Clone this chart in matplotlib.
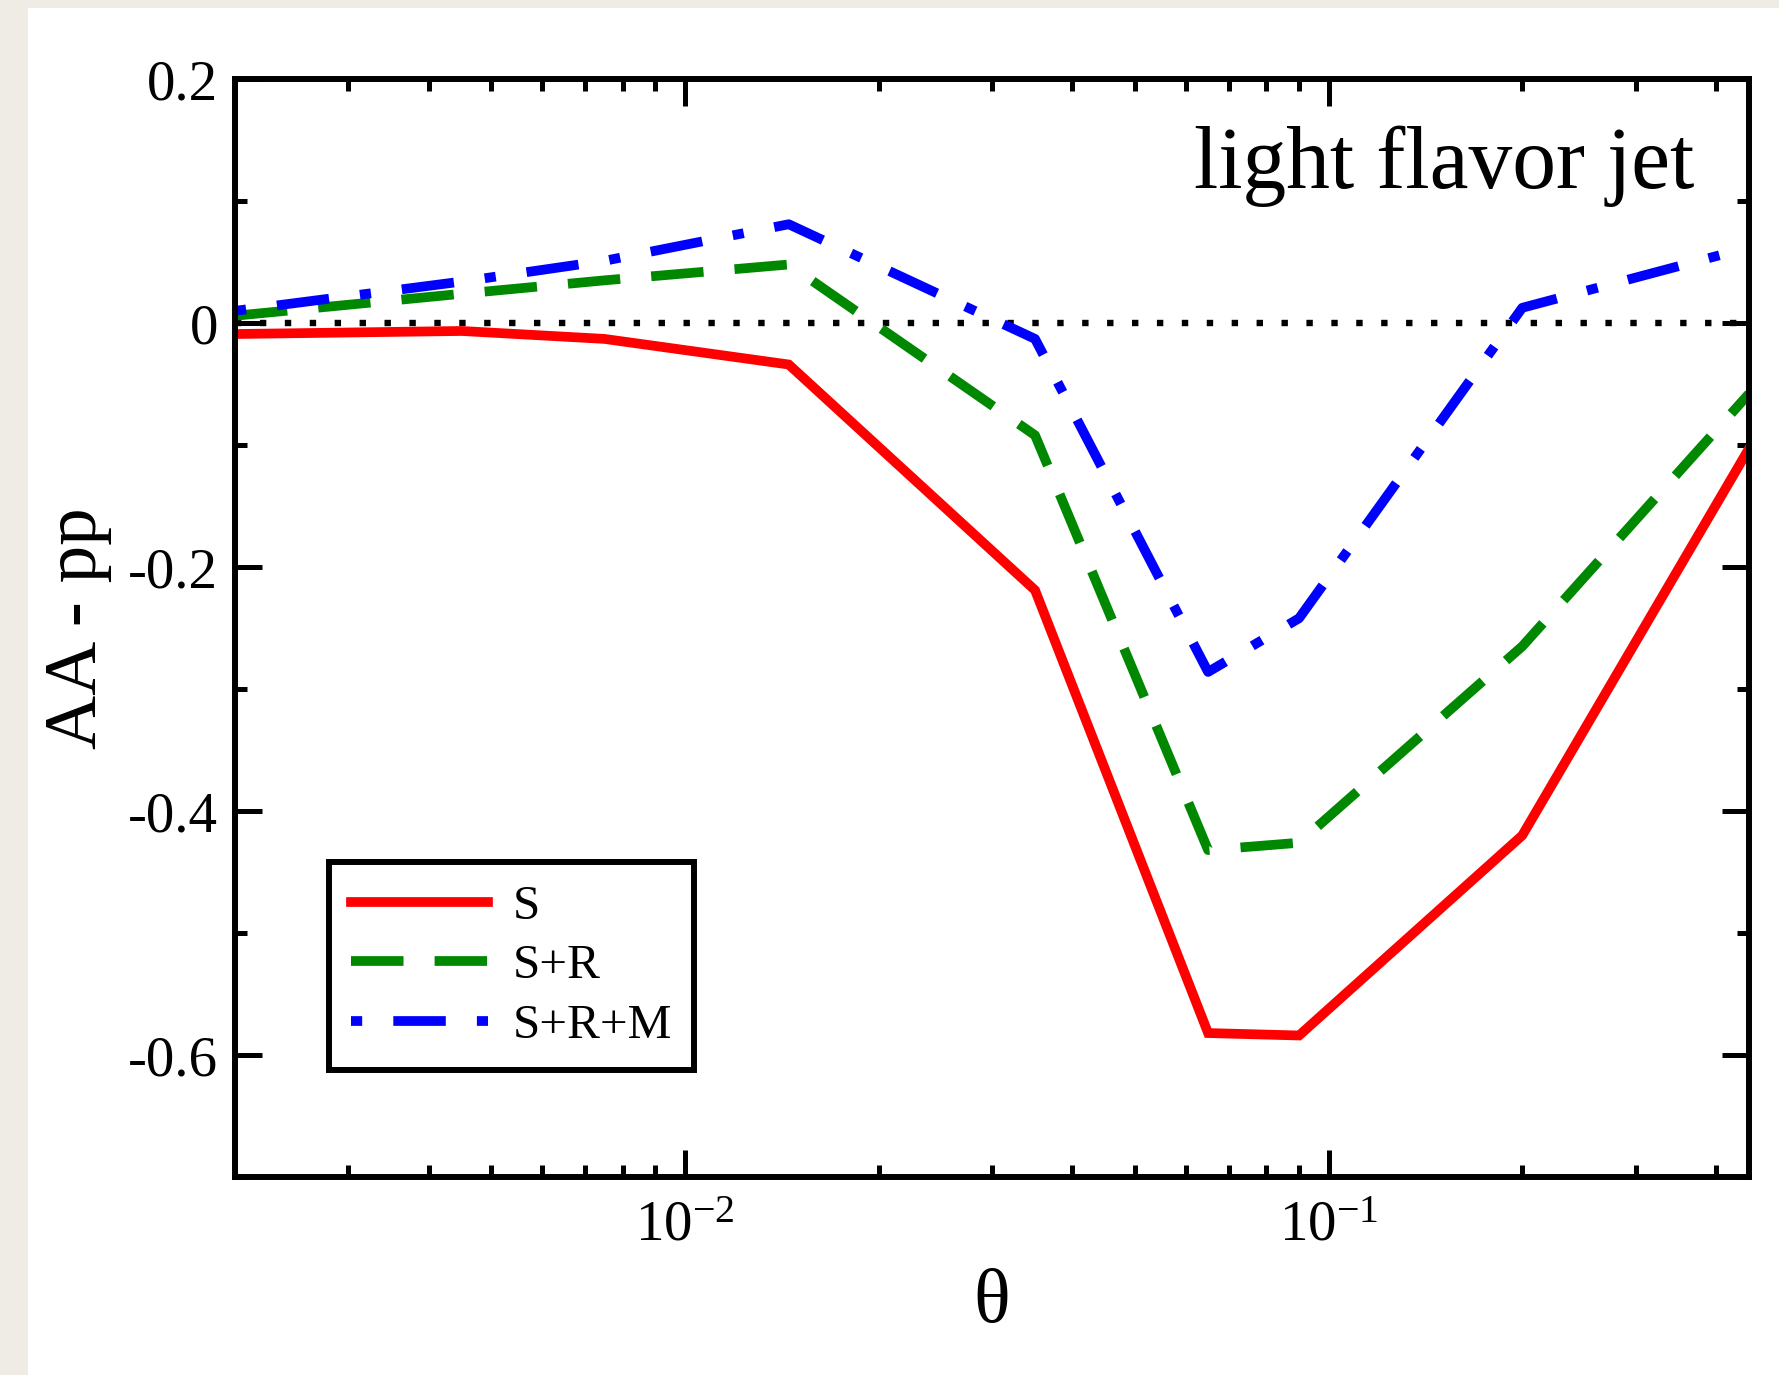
import numpy as np
import matplotlib
matplotlib.use('Agg')
import matplotlib.pyplot as plt
from matplotlib.patches import Rectangle
from matplotlib.ticker import LogLocator, MultipleLocator, FixedLocator, FuncFormatter

plt.rcParams['font.family'] = ['Liberation Serif', 'DejaVu Serif']
plt.rcParams['mathtext.fontset'] = 'custom'
plt.rcParams['mathtext.rm'] = 'Liberation Serif'
plt.rcParams['mathtext.it'] = 'Liberation Serif:italic'
plt.rcParams['axes.unicode_minus'] = False

# theta nodes
theta = [0.002, 0.0045, 0.0075, 0.0145, 0.035, 0.065, 0.09, 0.2, 0.45]
s_only = [-0.009, -0.0065, -0.013, -0.034, -0.219, -0.582, -0.584, -0.420, -0.103]
s_r = [0.006, 0.024, 0.035, 0.048, -0.092, -0.432, -0.426, -0.265, -0.058]
s_r_m = [0.010, 0.034, 0.051, 0.081, -0.013, -0.286, -0.242, 0.0125, 0.062]
labels = ['S', 'S+R', 'S+R+M']
yticks_major = [-0.6, -0.4, -0.2, 0, 0.2]

fig = plt.figure(figsize=(17.79, 13.75), dpi=100)
fig.patch.set_facecolor('#efece6')
fig.add_artist(Rectangle((28/1779, 0), 1 - 28/1779, 1 - 8/1375, transform=fig.transFigure,
                         facecolor='white', edgecolor='none', zorder=0))

ax = fig.add_axes([0.1321, 0.144, 0.851, 0.7985])
ax.set_facecolor('white')

lw = 7.0
ax.plot(theta, s_only, color='#ff0000', lw=lw, solid_joinstyle='miter', label=labels[0])
ax.plot(theta, s_r, color='#008800', lw=lw, dashes=(5.4, 3.2), dash_capstyle='butt', label=labels[1])
ax.plot(theta, s_r_m, color='#0000ff', lw=lw, dashes=(1.15, 3.2, 5.4, 3.2), dash_capstyle='butt', label=labels[2])
ax.axhline(0, color='black', lw=4.6, dashes=(1.0, 2.9), zorder=1)

ax.set_xscale('log')
ax.set_xlim(0.002, 0.45)
ax.set_ylim(-0.7, 0.2)

ax.xaxis.set_major_locator(LogLocator(base=10, numticks=10))
ax.xaxis.set_minor_locator(LogLocator(base=10, subs=np.arange(2, 10), numticks=20))
ax.yaxis.set_major_locator(FixedLocator(yticks_major))
ax.yaxis.set_minor_locator(MultipleLocator(0.1))
ax.yaxis.set_major_formatter(FuncFormatter(lambda v, p: '%g' % round(v, 3)))

for s in ax.spines.values():
    s.set_linewidth(4.3)
ax.tick_params(which='both', direction='in', top=True, right=True, width=3.6)
ax.tick_params(which='major', length=19.5, labelsize=41, pad=12)
ax.tick_params(axis='x', which='major', pad=17)
ax.tick_params(which='minor', length=8.6)

ax.set_xlabel('θ', fontsize=55, labelpad=12)
ax.set_ylabel('AA - pp', fontsize=54, labelpad=12)

ax.text(0.964, 0.901, 'light flavor jet', transform=ax.transAxes, ha='right', va='baseline', fontsize=63)

leg = ax.legend(loc='lower left', bbox_to_anchor=(0.062, 0.0975), borderaxespad=0, fontsize=35.5,
                handlelength=2.78, handletextpad=0.5, labelspacing=0.3, borderpad=0.45,
                fancybox=False, framealpha=1, edgecolor='black')
leg.get_frame().set_linewidth(4.3)

fig.savefig('out.png', dpi=100, facecolor=fig.get_facecolor())
